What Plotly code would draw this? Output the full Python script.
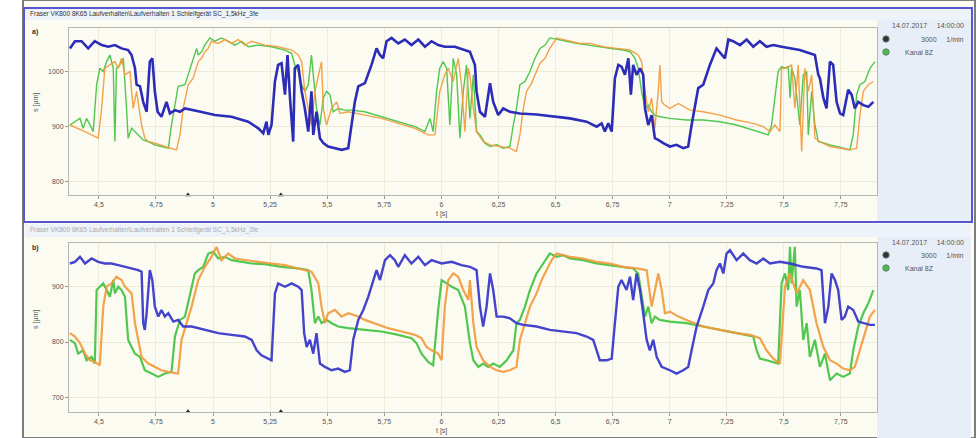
import plotly.graph_objects as go

# ---------------- data ----------------
# Panel a) – top
top_blue_t = [4.373,4.395,4.424,4.453,4.482,4.512,4.541,4.570,4.599,4.628,4.643,4.658,4.665,4.680,4.694,4.709,4.723,4.734,4.745,4.757,4.774,4.796,4.811,4.833,4.855,4.877,4.935,5.008,5.081,5.154,5.198,5.220,5.234,5.242,5.256,5.271,5.285,5.300,5.315,5.326,5.337,5.351,5.358,5.373,5.388,5.402,5.417,5.431,5.439,5.453,5.468,5.483,5.504,5.534,5.563,5.592,5.607,5.621,5.636,5.665,5.694,5.716,5.731,5.745,5.760,5.782,5.811,5.840,5.869,5.899,5.928,5.957,5.986,6.015,6.059,6.103,
              6.125,6.147,6.154,6.169,6.191,6.213,6.227,6.249,6.271,6.300,6.344,6.417,6.490,6.563,6.636,6.680,6.702,6.716,6.731,6.746,6.760,6.775,6.789,6.804,6.819,6.830,6.840,6.855,6.870,6.884,6.892,6.906,6.921,6.935,6.950,6.972,7.001,7.030,7.059,7.081,7.096,7.111,7.125,7.147,7.176,7.205,7.227,7.242,7.257,7.278,7.308,7.337,7.366,7.395,7.424,7.454,7.490,7.527,7.570,7.636,7.651,7.658,7.673,7.687,7.702,7.716,7.731,7.746,7.760,7.782,7.797,7.811,7.826,7.848,7.870,7.892]
top_blue_s = [1042,1055,1055,1042,1055,1048,1045,1048,1042,1039,1030,1006,976,973,945,927,1018,1024,964,927,918,945,924,930,927,933,928,921,918,909,897,888,909,885,903,982,1012,1015,958,1030,952,873,1006,1012,964,933,891,964,885,927,879,870,864,861,858,861,903,945,973,979,1012,1042,1030,1024,1055,1061,1051,1058,1048,1058,1045,1055,1048,1045,1045,1039,
              1036,1012,964,927,918,979,945,921,933,927,924,922,918,915,909,900,906,891,906,891,988,1012,1009,994,1024,958,1012,994,1006,994,933,903,921,879,876,870,864,867,861,864,903,939,970,976,1012,1042,1030,1024,1058,1055,1048,1058,1045,1055,1045,1048,1045,1042,1039,1030,994,988,952,933,1018,1012,945,924,921,967,958,933,945,939,936,945]

top_green_t = [4.373,4.395,4.417,4.431,4.446,4.461,4.475,4.490,4.504,4.519,4.534,4.548,4.563,4.570,4.577,4.592,4.607,4.621,4.628,4.643,4.658,4.672,4.694,4.716,4.745,4.774,4.804,4.818,4.833,4.847,4.877,4.906,4.928,4.935,4.950,4.964,4.986,5.008,5.037,5.066,5.096,5.125,5.154,5.198,5.256,5.315,5.344,5.358,5.373,5.388,5.402,5.417,5.431,5.439,5.453,5.468,5.483,5.497,5.512,5.526,5.548,5.577,5.607,5.665,5.738,5.811,5.884,5.928,5.950,5.964,5.979,5.993,6.008,6.023,6.037,6.052,6.067,6.081,6.096,6.110,
               6.125,6.140,6.154,6.169,6.191,6.213,6.242,6.271,6.300,6.315,6.329,6.344,6.366,6.388,6.410,6.432,6.454,6.475,6.505,6.548,6.592,6.636,6.680,6.738,6.797,6.826,6.848,6.862,6.877,6.892,6.906,6.921,6.935,6.957,7.001,7.074,7.147,7.220,7.293,7.366,7.410,7.432,7.446,7.461,7.475,7.490,7.505,7.519,7.527,7.534,7.548,7.570,7.585,7.600,7.607,7.622,7.636,7.651,7.673,7.702,7.731,7.760,7.789,7.804,7.819,7.833,7.855,7.877,7.899]
top_green_s = [903,909,915,897,915,903,891,976,1006,1000,1018,1030,1006,873,1006,1012,1024,933,879,897,891,885,876,873,867,864,861,903,939,973,976,1012,1042,1030,1036,1048,1061,1055,1061,1055,1048,1055,1045,1048,1045,1039,1033,1012,1000,976,964,976,1030,994,933,903,952,964,958,927,933,930,930,927,918,909,900,891,915,891,964,1006,1018,1006,903,1024,994,879,964,1012,
               915,994,891,885,870,864,867,861,864,903,933,976,982,1000,1024,1042,1048,1061,1058,1055,1051,1048,1045,1042,1039,1036,1024,1006,964,933,939,927,921,918,915,912,912,909,903,894,888,885,903,952,1000,1009,1006,1009,952,1006,988,903,994,1000,885,964,903,873,870,867,864,861,858,885,958,976,982,1006,1018]

top_orange_t = [4.373,4.409,4.439,4.468,4.497,4.512,4.526,4.548,4.570,4.585,4.599,4.614,4.636,4.650,4.665,4.687,4.701,4.716,4.745,4.789,4.840,4.855,4.869,4.891,4.913,4.935,4.950,4.964,4.979,4.993,5.023,5.052,5.081,5.110,5.139,5.169,5.227,5.285,5.344,5.373,5.388,5.402,5.417,5.431,5.446,5.461,5.475,5.483,5.497,5.519,5.541,5.556,5.592,5.665,5.738,5.811,5.884,5.942,5.972,5.993,6.015,6.030,6.052,6.074,6.088,6.103,6.118,
                6.125,6.140,6.154,6.183,6.213,6.256,6.300,6.329,6.344,6.359,6.373,6.395,6.417,6.432,6.454,6.475,6.505,6.534,6.563,6.607,6.651,6.709,6.767,6.826,6.862,6.877,6.892,6.906,6.921,6.935,6.950,6.957,6.965,6.979,7.001,7.038,7.089,7.147,7.220,7.293,7.366,7.410,7.439,7.461,7.483,7.490,7.512,7.534,7.548,7.563,7.578,7.592,7.607,7.622,7.636,7.658,7.702,7.746,7.789,7.819,7.833,7.848,7.870,7.892]
top_orange_s = [903,897,891,885,879,933,1006,1012,1018,1006,1024,994,1000,933,964,903,879,873,870,864,858,885,933,976,988,1018,1024,1036,1042,1055,1051,1058,1051,1058,1048,1055,1048,1045,1039,1030,1018,964,933,903,964,994,1018,933,903,933,945,924,927,921,915,906,897,885,885,964,994,1006,982,1024,976,891,1006,
                994,933,891,873,867,864,861,855,885,933,964,979,1000,1015,1024,1042,1061,1058,1055,1051,1051,1045,1042,1039,1030,1018,964,927,952,897,964,1012,945,939,933,942,930,927,921,912,906,900,891,903,891,1006,1006,1012,933,1012,855,1006,964,994,879,873,864,861,858,861,921,964,976,982]

# Panel b) – bottom
bot_blue_t = [4.373,4.395,4.417,4.439,4.468,4.497,4.526,4.555,4.585,4.614,4.643,4.672,4.687,4.694,4.701,4.709,4.723,4.734,4.745,4.760,4.774,4.789,4.804,4.826,4.847,4.869,4.906,4.964,5.023,5.081,5.139,5.169,5.191,5.212,5.242,5.256,5.271,5.285,5.315,5.344,5.373,5.388,5.399,5.410,5.424,5.439,5.453,5.468,5.490,5.519,5.548,5.577,5.599,5.614,5.636,5.658,5.680,5.702,5.716,5.731,5.753,5.775,5.796,5.811,5.840,5.869,5.899,5.928,5.957,6.001,6.045,6.088,
              6.125,6.154,6.169,6.183,6.198,6.213,6.227,6.242,6.271,6.300,6.329,6.359,6.417,6.475,6.534,6.592,6.636,6.665,6.680,6.694,6.724,6.746,6.760,6.775,6.789,6.811,6.826,6.840,6.855,6.870,6.884,6.899,6.913,6.928,6.943,6.965,7.001,7.030,7.059,7.081,7.096,7.118,7.147,7.169,7.191,7.205,7.220,7.235,7.249,7.264,7.293,7.322,7.351,7.381,7.410,7.439,7.483,7.527,7.585,7.643,7.665,7.680,7.695,7.709,7.724,7.738,7.753,7.767,7.782,7.804,7.826,7.848,7.877,7.899]
bot_blue_s = [942,945,954,942,951,945,942,942,939,936,933,930,927,834,822,852,930,912,864,846,858,846,852,837,840,828,828,822,816,813,810,804,785,776,770,767,888,906,900,906,900,894,816,791,804,779,816,761,755,749,752,746,749,804,840,858,882,912,930,912,948,957,948,936,957,942,954,939,948,942,945,939,
              936,930,864,828,864,924,894,846,846,843,834,831,828,822,819,816,810,804,785,767,767,770,834,900,912,894,918,876,924,894,852,804,785,804,773,755,749,743,749,755,785,828,864,894,906,930,942,924,960,966,948,960,948,942,951,942,945,942,936,933,930,834,864,924,912,894,840,846,864,858,837,834,831,831]

bot_green_t = [4.373,4.395,4.409,4.431,4.446,4.468,4.482,4.490,4.504,4.519,4.534,4.548,4.563,4.570,4.585,4.599,4.614,4.628,4.643,4.658,4.680,4.701,4.731,4.760,4.789,4.818,4.833,4.855,4.877,4.899,4.920,4.935,4.957,4.979,5.001,5.023,5.052,5.081,5.125,5.169,5.227,5.300,5.373,5.417,5.431,5.446,5.461,5.475,5.497,5.519,5.548,5.592,5.665,5.738,5.811,5.869,5.891,5.913,5.942,5.964,5.986,6.001,6.023,6.045,6.074,6.103,6.125,
               6.140,6.162,6.183,6.205,6.227,6.256,6.286,6.315,6.329,6.344,6.366,6.388,6.417,6.446,6.475,6.505,6.534,6.563,6.621,6.680,6.738,6.797,6.840,6.862,6.877,6.892,6.906,6.921,6.935,6.957,7.001,7.074,7.147,7.220,7.293,7.366,7.381,7.395,7.424,7.454,7.475,7.490,7.505,7.519,7.527,7.534,7.548,7.556,7.570,7.585,7.600,7.614,7.636,7.658,7.680,7.702,7.731,7.760,7.789,7.804,7.826,7.848,7.870,7.892]
bot_green_s = [804,798,779,785,767,773,761,894,900,906,894,882,912,888,900,894,882,804,791,779,773,749,743,737,743,746,810,840,846,888,924,930,936,960,963,951,954,948,945,942,941,936,933,930,894,834,846,834,840,834,828,825,822,819,813,807,798,779,764,758,858,912,906,900,894,864,798,
               767,755,761,755,761,755,767,785,834,840,864,894,924,942,960,954,957,951,948,942,939,936,933,924,882,846,864,834,846,840,837,834,828,822,816,810,785,770,767,764,761,906,924,894,972,906,972,864,894,804,834,773,804,755,779,731,743,737,743,785,828,852,870,894]

bot_orange_t = [4.373,4.395,4.417,4.439,4.461,4.482,4.504,4.519,4.534,4.555,4.577,4.599,4.614,4.628,4.643,4.658,4.672,4.687,4.716,4.745,4.774,4.804,4.847,4.862,4.884,4.906,4.935,4.964,4.993,5.015,5.037,5.066,5.096,5.139,5.198,5.256,5.315,5.373,5.431,5.461,5.475,5.490,5.504,5.534,5.563,5.592,5.636,5.665,5.709,5.767,5.826,5.884,5.913,5.935,5.957,5.986,6.001,6.015,6.030,6.052,6.074,6.096,6.118,
                6.125,6.140,6.154,6.183,6.213,6.242,6.271,6.300,6.329,6.344,6.366,6.388,6.417,6.439,6.461,6.483,6.505,6.534,6.563,6.621,6.680,6.738,6.797,6.855,6.899,6.921,6.935,6.950,6.965,6.979,7.001,7.038,7.089,7.147,7.220,7.293,7.351,7.395,7.424,7.454,7.483,7.505,7.527,7.556,7.585,7.614,7.643,7.673,7.702,7.731,7.760,7.789,7.811,7.833,7.855,7.877,7.899]
bot_orange_s = [816,810,798,779,767,764,758,864,900,906,918,912,900,894,888,834,804,773,761,755,749,746,743,804,834,864,912,936,954,972,948,960,951,948,945,942,939,933,927,906,864,834,852,858,846,852,846,840,834,825,819,813,807,791,785,779,767,864,912,924,918,894,876,
                912,834,791,767,755,749,746,749,755,804,834,864,888,912,930,948,960,957,954,951,945,942,936,933,930,864,894,924,894,852,855,846,837,828,822,816,813,807,785,770,761,900,924,888,912,894,834,791,767,761,752,749,755,785,816,846,858]

x_tick_vals = [4.5, 4.75, 5.0, 5.25, 5.5, 5.75, 6.0, 6.25, 6.5, 6.75, 7.0, 7.25, 7.5, 7.75]
x_tick_text = ["4,5", "4,75", "5", "5,25", "5,5", "5,75", "6", "6,25", "6,5", "6,75", "7", "7,25", "7,5", "7,75"]
top_y_ticks = [800, 900, 1000]
bot_y_ticks = [700, 800, 900]
cursor_t = [4.89, 5.297]

title_text = "Fraser VK800 8K65 Laufverhalten\\Laufverhalten 1 Schleifgerät SC_1,5kHz_3fe"
legend_date = "14.07.2017     14:00:00"
legend_speed = "3000     1/min"
legend_chan = "Kanal 8Z"

# ---------------- figure ----------------
W, H = 979, 438
def px(x): return x / W
def py(y): return 1 - y / H

BLUE = "#2c2cb8"
GREEN = "#3fc23f"
ORANGE = "#f29a3a"

fig = go.Figure()

def add_panel(ts, axis_suffix, widths, opac):
    xa = "x" + axis_suffix
    ya = "y" + axis_suffix
    for (t, s, col), w, o in zip(ts, widths, opac):
        fig.add_trace(go.Scatter(x=t, y=s, mode="lines", line=dict(color=col, width=w),
                                 opacity=o, xaxis=xa, yaxis=ya, showlegend=False,
                                 hoverinfo="skip"))

add_panel([(top_green_t, top_green_s, GREEN), (top_orange_t, top_orange_s, ORANGE),
           (top_blue_t, top_blue_s, BLUE)], "", [1.4, 1.4, 2.6], [0.9, 0.9, 1.0])
add_panel([(bot_green_t, bot_green_s, GREEN), (bot_orange_t, bot_orange_s, ORANGE),
           (bot_blue_t, bot_blue_s, "#3a3acc")], "2", [2.2, 2.2, 2.4], [0.9, 0.9, 0.95])

# cursor markers on the time axes
top_range = [776, 1079]
bot_range = [674, 978.5]
fig.add_trace(go.Scatter(x=cursor_t, y=[top_range[0]] * len(cursor_t), mode="markers",
                         marker=dict(symbol="triangle-up", size=5, color="#222"),
                         cliponaxis=False, showlegend=False, hoverinfo="skip"))
fig.add_trace(go.Scatter(x=cursor_t, y=[bot_range[0]] * len(cursor_t), mode="markers",
                         marker=dict(symbol="triangle-up", size=5, color="#222"),
                         xaxis="x2", yaxis="y2", cliponaxis=False, showlegend=False, hoverinfo="skip"))

tickfont = dict(family="Liberation Sans, Arial, sans-serif", size=7, color="#555")
xcommon = dict(range=[4.369, 7.908], tickvals=x_tick_vals, ticktext=x_tick_text,
               ticks="outside", ticklen=3, tickcolor="#999", tickfont=tickfont,
               showgrid=True, gridcolor="#ecebd6", gridwidth=1, zeroline=False,
               showline=True, linecolor="#b5b5b5", mirror=True)
ycommon = dict(ticks="outside", ticklen=3, tickcolor="#999", tickfont=tickfont,
               showgrid=True, gridcolor="#ecebd6", zeroline=False,
               showline=True, linecolor="#b5b5b5", mirror=True)

fig.update_layout(
    width=W, height=H, margin=dict(l=0, r=0, t=0, b=0),
    paper_bgcolor="white", plot_bgcolor="#fdfde9",
    xaxis=dict(domain=[px(69), px(877)], anchor="y", **xcommon),
    yaxis=dict(domain=[py(195), py(28)], anchor="x", range=top_range,
               tickvals=top_y_ticks, **ycommon),
    xaxis2=dict(domain=[px(69), px(877)], anchor="y2", **xcommon),
    yaxis2=dict(domain=[py(411.7), py(243.3)], anchor="x2", range=bot_range,
                tickvals=bot_y_ticks, **ycommon),
)

shapes = []
def rect(x0, y0, x1, y1, fill, line=None, lw=0, layer="below"):
    shapes.append(dict(type="rect", xref="paper", yref="paper",
                       x0=px(x0), y0=py(y1), x1=px(x1), y1=py(y0),
                       fillcolor=fill, line=dict(color=line or fill, width=lw), layer=layer))

def dot(cx, cy, r, fill):
    shapes.append(dict(type="circle", xref="paper", yref="paper",
                       x0=px(cx - r), x1=px(cx + r), y0=py(cy + r), y1=py(cy - r),
                       fillcolor=fill, line=dict(color="#777", width=1), layer="above"))

rect(23, 0, 975, 438, "#fbfbf2", "#7d7d7d", 2)          # window
rect(877, 20, 971, 221, "#e8eef7")                      # legend panel a
rect(877, 237, 971, 438, "#e8eef7")                     # legend panel b
rect(25, 9, 971, 20, "#eef2f9")                         # title bar a
rect(25, 224, 971, 237, "#eef3f9")                      # title bar b
rect(24, 8, 972, 222, "rgba(0,0,0,0)", "#5656d0", 2, layer="above")  # active panel frame
for y0 in (39, 255):
    dot(886, y0, 3.2, "#333333")
    dot(886, y0 + 13, 3.2, GREEN)
fig.update_layout(shapes=shapes)

small = dict(family="Liberation Sans, Arial, sans-serif", size=7, color="#555")
ann = []
def text(x, y, s, font=small, xanchor="left", angle=0):
    ann.append(dict(xref="paper", yref="paper", x=px(x), y=py(y), text=s, showarrow=False,
                    xanchor=xanchor, yanchor="middle", font=font, textangle=angle))

text(28, 14.5, title_text, dict(family="Liberation Sans, Arial", size=6.5, color="#333"))
text(28, 230.5, title_text, dict(family="Liberation Sans, Arial", size=6.5, color="#aaa"))
text(30, 32, "<b>a)</b>", dict(family="Liberation Sans, Arial", size=7, color="#333"))
text(30, 248, "<b>b)</b>", dict(family="Liberation Sans, Arial", size=7, color="#333"))
text(36, 103, "s [µm]", small, "center", -90)
text(36, 320, "s [µm]", small, "center", -90)
text(441, 214, "t [s]", small, "center")
text(441, 431, "t [s]", small, "center")
for y0 in (26, 242):
    text(966, y0, legend_date, small, "right")
    text(966, y0 + 13, legend_speed, small, "right")
    text(903, y0 + 26, legend_chan, small)
fig.update_layout(annotations=ann)

fig.write_html("out.html", config={"displayModeBar": False},
               post_script="document.body.style.margin='0';document.body.style.overflow='hidden';")
